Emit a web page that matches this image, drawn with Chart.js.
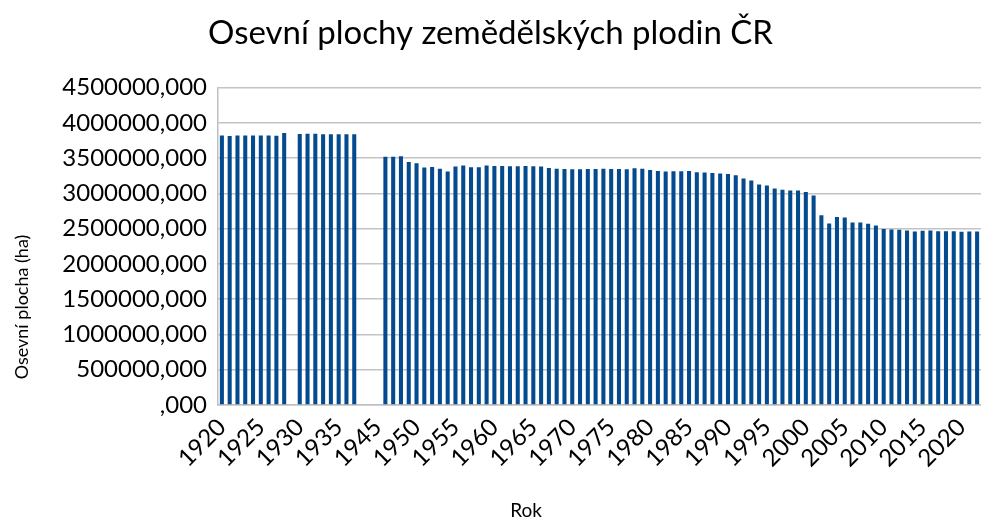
<!DOCTYPE html>
<html>
<head>
<meta charset="utf-8">
<script src="https://cdn.jsdelivr.net/npm/chart.js@4/dist/chart.umd.min.js"></script>
<style>
  html, body { margin: 0; padding: 0; background: #ffffff; }
  #wrap { width: 981px; height: 521px; }
</style>
</head>
<body>
<div id="wrap"><canvas id="c" width="981" height="521"></canvas></div>
<script>
// ---- data ----
const years = [
  1920,1921,1922,1923,1924,1925,1926,1927,1928,1929,
  1930,1931,1932,1933,1934,1935,1936,1937,1938,1939,
  1945,1946,1947,1948,1949,1950,1951,1952,1953,1954,
  1955,1956,1957,1958,1959,1960,1961,1962,1963,1964,
  1965,1966,1967,1968,1969,1970,1971,1972,1973,1974,
  1975,1976,1977,1978,1979,1980,1981,1982,1983,1984,
  1985,1986,1987,1988,1989,1990,1991,1992,1993,1994,
  1995,1996,1997,1998,1999,2000,2001,2002,2003,2004,
  2005,2006,2007,2008,2009,2010,2011,2012,2013,2014,
  2015,2016,2017,2018,2019,2020,2021,2022
];
const osevniPlocha = [
  3820000,3815000,3820000,3820000,3822000,3822000,3820000,3818000,3858000,null,
  3842000,3846000,3846000,3840000,3840000,3840000,3840000,3840000,null,null,
  null,3520000,3520000,3528000,3446000,3427000,3366000,3375000,3351000,3309000,
  3380000,3394000,3370000,3370000,3394000,3389000,3389000,3384000,3384000,3389000,
  3384000,3380000,3361000,3351000,3347000,3342000,3342000,3345000,3347000,3351000,
  3347000,3347000,3342000,3356000,3351000,3333000,3319000,3309000,3314000,3314000,
  3319000,3300000,3295000,3290000,3281000,3276000,3257000,3210000,3182000,3125000,
  3111000,3068000,3052000,3040000,3040000,3021000,2969000,2690000,2573000,2667000,
  2658000,2587000,2587000,2568000,2544000,2497000,2488000,2483000,2474000,2459000,
  2469000,2474000,2464000,2464000,2464000,2455000,2459000,2459000
];
const chartTitle = 'Osevní plochy zemědělských plodin ČR';
const yTitle = 'Osevní plocha (ha)';
const xTitle = 'Rok';

const FONT = 'Lato, "Open Sans", sans-serif';

const axisTitles = {
  id: 'axisTitles',
  afterDraw(chart) {
    const ctx = chart.ctx;
    ctx.save();
    ctx.fillStyle = '#000000';
    ctx.font = '18px ' + FONT;
    ctx.textAlign = 'center';
    ctx.textBaseline = 'middle';
    ctx.translate(22, 307);
    ctx.rotate(-Math.PI / 2);
    ctx.fillText(yTitle, 0, 0);
    ctx.restore();
    ctx.save();
    ctx.fillStyle = '#000000';
    ctx.font = '19px ' + FONT;
    ctx.textAlign = 'center';
    ctx.textBaseline = 'middle';
    ctx.fillText(xTitle, 526, 511);
    ctx.restore();
  }
};

new Chart(document.getElementById('c'), {
  type: 'bar',
  data: {
    labels: years.map(String),
    datasets: [{
      data: osevniPlocha,
      backgroundColor: '#044A8E',
      borderWidth: 0,
      categoryPercentage: 1.0,
      barPercentage: 0.52
    }]
  },
  options: {
    responsive: false,
    animation: false,
    devicePixelRatio: 1,
    layout: { padding: { left: 0, right: 0, top: 0, bottom: 0 } },
    plugins: {
      legend: { display: false },
      tooltip: { enabled: false },
      title: {
        display: true,
        text: chartTitle,
        color: '#000000',
        font: { family: FONT, size: 33, weight: 'normal' },
        padding: { top: 14, bottom: 34 }
      }
    },
    scales: {
      x: {
        offset: true,
        grid: { display: false, drawTicks: false },
        border: { display: true, color: '#bfbfbf', width: 1.5 },
        ticks: {
          autoSkip: false,
          maxRotation: 45,
          minRotation: 45,
          padding: 8,
          color: '#000000',
          font: { family: FONT, size: 24 },
          callback: function (v, i) { return i % 5 === 0 ? this.getLabelForValue(v) : ''; }
        },
        afterFit(scale) { scale.height = 116; scale.paddingRight = 0; scale.paddingLeft = 0; }
      },
      y: {
        min: 0,
        max: 4500000,
        grid: { color: '#c4c4c4', lineWidth: 1.5, drawTicks: false },
        border: { display: true, color: '#bfbfbf', width: 1.5 },
        ticks: {
          stepSize: 500000,
          padding: 11,
          color: '#000000',
          font: { family: FONT, size: 24 },
          callback: (v) => (v === 0 ? '' : String(v)) + ',000'
        },
        afterFit(scale) { scale.width = 218; scale.paddingTop = 0; scale.paddingBottom = 0; }
      }
    }
  },
  plugins: [axisTitles]
});
</script>
</body>
</html>
